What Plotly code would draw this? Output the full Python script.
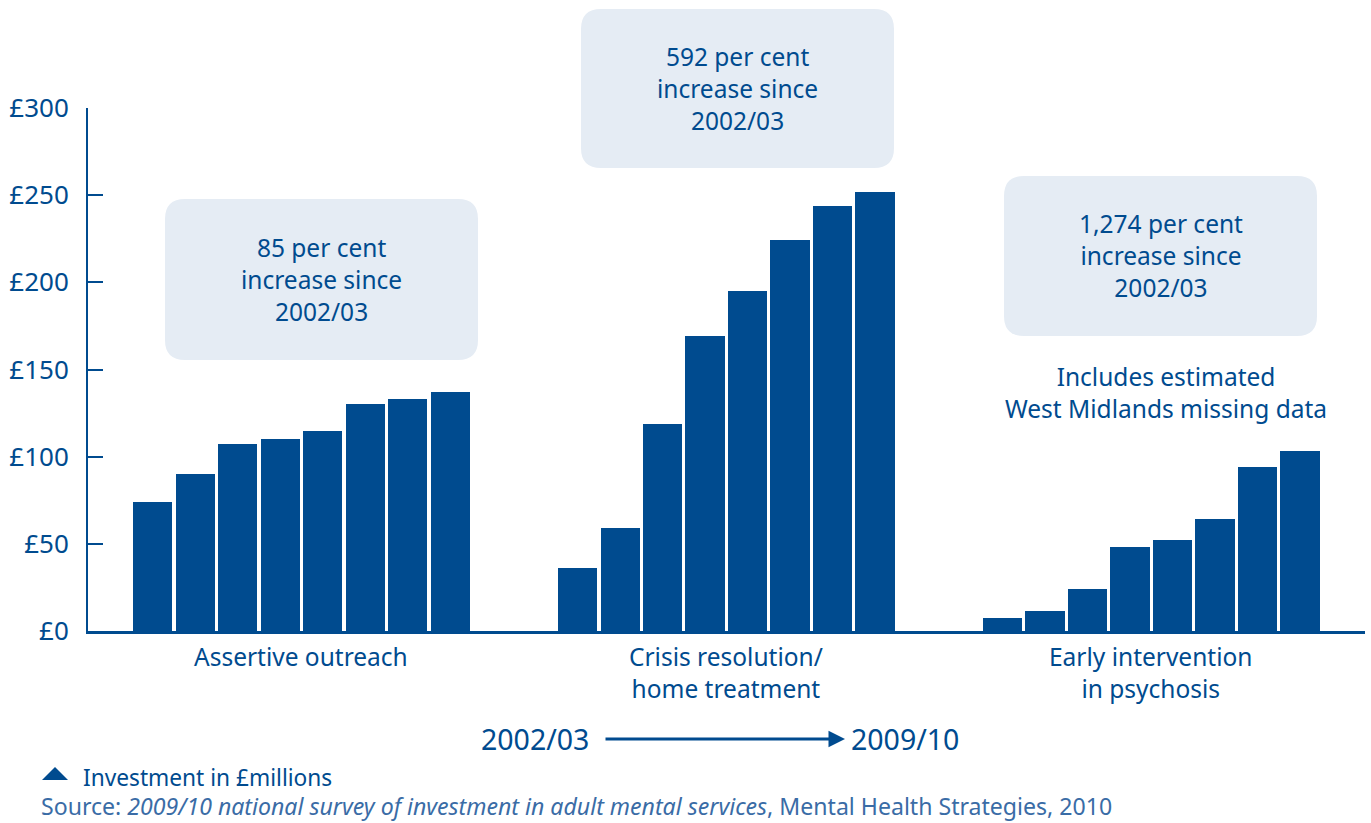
import plotly.graph_objects as go

# ---------------- data ----------------
years = ["2002/03", "2003/04", "2004/05", "2005/06", "2006/07", "2007/08", "2008/09", "2009/10"]
categories = ["Assertive outreach", "Crisis resolution/<br>home treatment", "Early intervention<br>in psychosis"]
assertive_outreach = [74, 90, 107, 110, 115, 130, 133, 137]
crisis_resolution = [36, 59, 119, 169, 195, 224, 244, 252]
early_intervention = [7.5, 11.5, 24, 48, 52, 64, 94, 103]
increase_labels = [
    "85 per cent<br>increase since<br>2002/03",
    "592 per cent<br>increase since<br>2002/03",
    "1,274 per cent<br>increase since<br>2002/03",
]
y_ticks = [0, 50, 100, 150, 200, 250, 300]
y_ticklabels = ["£0", "£50", "£100", "£150", "£200", "£250", "£300"]

series = [assertive_outreach, crisis_resolution, early_intervention]

# ---------------- style ----------------
BLUE = "#004B8F"
BOX = "#E5ECF4"
SRC = "#3A6CA6"
FONT = "Noto Sans"
W, H = 1371, 823
L, R, T, B = 88, 6, 108, 192
GROUP_STEP = 10
X0, X1 = -1.52, 28.53
Y0, Y1 = 0, 300
PW = W - L - R
PH = H - T - B


def px_paper(px):
    return (px - L) / PW


def py_paper(py):
    return (H - B - py) / PH


fig = go.Figure()

xs, ys, hover = [], [], []
for g, vals in enumerate(series):
    for j, v in enumerate(vals):
        xs.append(g * GROUP_STEP + j)
        ys.append(v)
        hover.append(f"{categories[g].replace('<br>', ' ')} {years[j]}: £{v}m")

fig.add_trace(go.Bar(x=xs, y=ys, width=0.92, marker=dict(color=BLUE, line=dict(width=0)),
                     hovertext=hover, hoverinfo="text", showlegend=False))

# rounded boxes with increase labels
boxes_px = [(165, 199, 478, 360), (581, 9, 894, 168), (1004, 176, 1317, 336)]
rad = 20
shapes = []
annotations = []
TXT = dict(family=FONT, size=24.5, color=BLUE)
for (x_a, y_a, x_b, y_b), txt in zip(boxes_px, increase_labels):
    rx = px_paper(x_a + rad) - px_paper(x_a)
    ry = py_paper(y_a) - py_paper(y_a + rad)
    xa, xb = px_paper(x_a), px_paper(x_b)
    ya, yb = py_paper(y_b), py_paper(y_a)  # bottom, top
    path = (f"M {xa+rx},{yb} L {xb-rx},{yb} Q {xb},{yb} {xb},{yb-ry} "
            f"L {xb},{ya+ry} Q {xb},{ya} {xb-rx},{ya} L {xa+rx},{ya} "
            f"Q {xa},{ya} {xa},{ya+ry} L {xa},{yb-ry} Q {xa},{yb} {xa+rx},{yb} Z")
    shapes.append(dict(type="path", path=path, xref="paper", yref="paper", fillcolor=BOX,
                       line=dict(width=0), layer="below"))
    annotations.append(dict(x=(xa + xb) / 2, y=(ya + yb) / 2, xref="paper", yref="paper", text=txt,
                            showarrow=False, font=TXT,
                            align="center", xanchor="center", yanchor="middle"))

# note on early intervention
annotations.append(dict(x=px_paper(1166), y=py_paper(392), xref="paper", yref="paper",
                        text="Includes estimated<br>West Midlands missing data",
                        showarrow=False, font=TXT,
                        align="center", xanchor="center", yanchor="middle"))

# category labels
cat_centers_px = [301, 726, 1150]
for c, cx in zip(categories, cat_centers_px):
    annotations.append(dict(x=px_paper(cx), y=py_paper(638), xref="paper", yref="paper", text=c,
                            showarrow=False, font=TXT,
                            align="center", xanchor="center", yanchor="top"))

# year arrow
annotations.append(dict(x=px_paper(845), y=py_paper(739), ax=-(845 - 604), ay=0,
                        xref="paper", yref="paper", axref="pixel", ayref="pixel",
                        text="", showarrow=True, arrowhead=2,
                        arrowsize=1.1, arrowwidth=3, arrowcolor=BLUE))
annotations.append(dict(x=px_paper(591), y=py_paper(739), xref="paper", yref="paper", text=years[0],
                        showarrow=False, font=dict(family=FONT, size=28.5, color=BLUE),
                        xanchor="right", yanchor="middle"))
annotations.append(dict(x=px_paper(849), y=py_paper(739), xref="paper", yref="paper", text=years[-1],
                        showarrow=False, font=dict(family=FONT, size=28.5, color=BLUE),
                        xanchor="left", yanchor="middle"))

# legend triangle + text
shapes.append(dict(type="path", xref="paper", yref="paper",
                   path=f"M {px_paper(42)},{py_paper(780)} L {px_paper(68)},{py_paper(780)} "
                        f"L {px_paper(55)},{py_paper(767)} Z",
                   fillcolor=BLUE, line=dict(width=0)))
annotations.append(dict(x=px_paper(81), y=py_paper(777), xref="paper", yref="paper",
                        text="Investment in £millions", showarrow=False,
                        font=dict(family=FONT, size=22.7, color=BLUE),
                        xanchor="left", yanchor="middle"))
annotations.append(dict(x=px_paper(39), y=py_paper(806), xref="paper", yref="paper",
                        text="Source: <i>2009/10 national survey of investment in adult mental services</i>, "
                             "Mental Health Strategies, 2010",
                        showarrow=False, font=dict(family=FONT, size=23.1, color=SRC),
                        xanchor="left", yanchor="middle"))

fig.update_layout(
    width=W, height=H,
    margin=dict(l=L, r=R, t=T, b=B, pad=0),
    paper_bgcolor="white", plot_bgcolor="white",
    bargap=0,
    shapes=shapes, annotations=annotations,
    font=dict(family=FONT, color=BLUE),
    xaxis=dict(range=[X0, X1], showgrid=False, zeroline=False, showticklabels=False,
               ticks="", showline=True, linecolor=BLUE, linewidth=3, fixedrange=True),
    yaxis=dict(range=[Y0, Y1], tickvals=y_ticks, ticktext=y_ticklabels, showgrid=False,
               zeroline=False, ticks="inside", ticklen=15, tickwidth=2, tickcolor=BLUE,
               showline=True, linecolor=BLUE, linewidth=2,
               tickfont=dict(family=FONT, size=26, color=BLUE), ticklabelstandoff=12,
               fixedrange=True),
)

fig.write_html("out.html", config={"displayModeBar": False},
               post_script="document.body.style.margin='0';document.body.style.overflow='hidden';")
